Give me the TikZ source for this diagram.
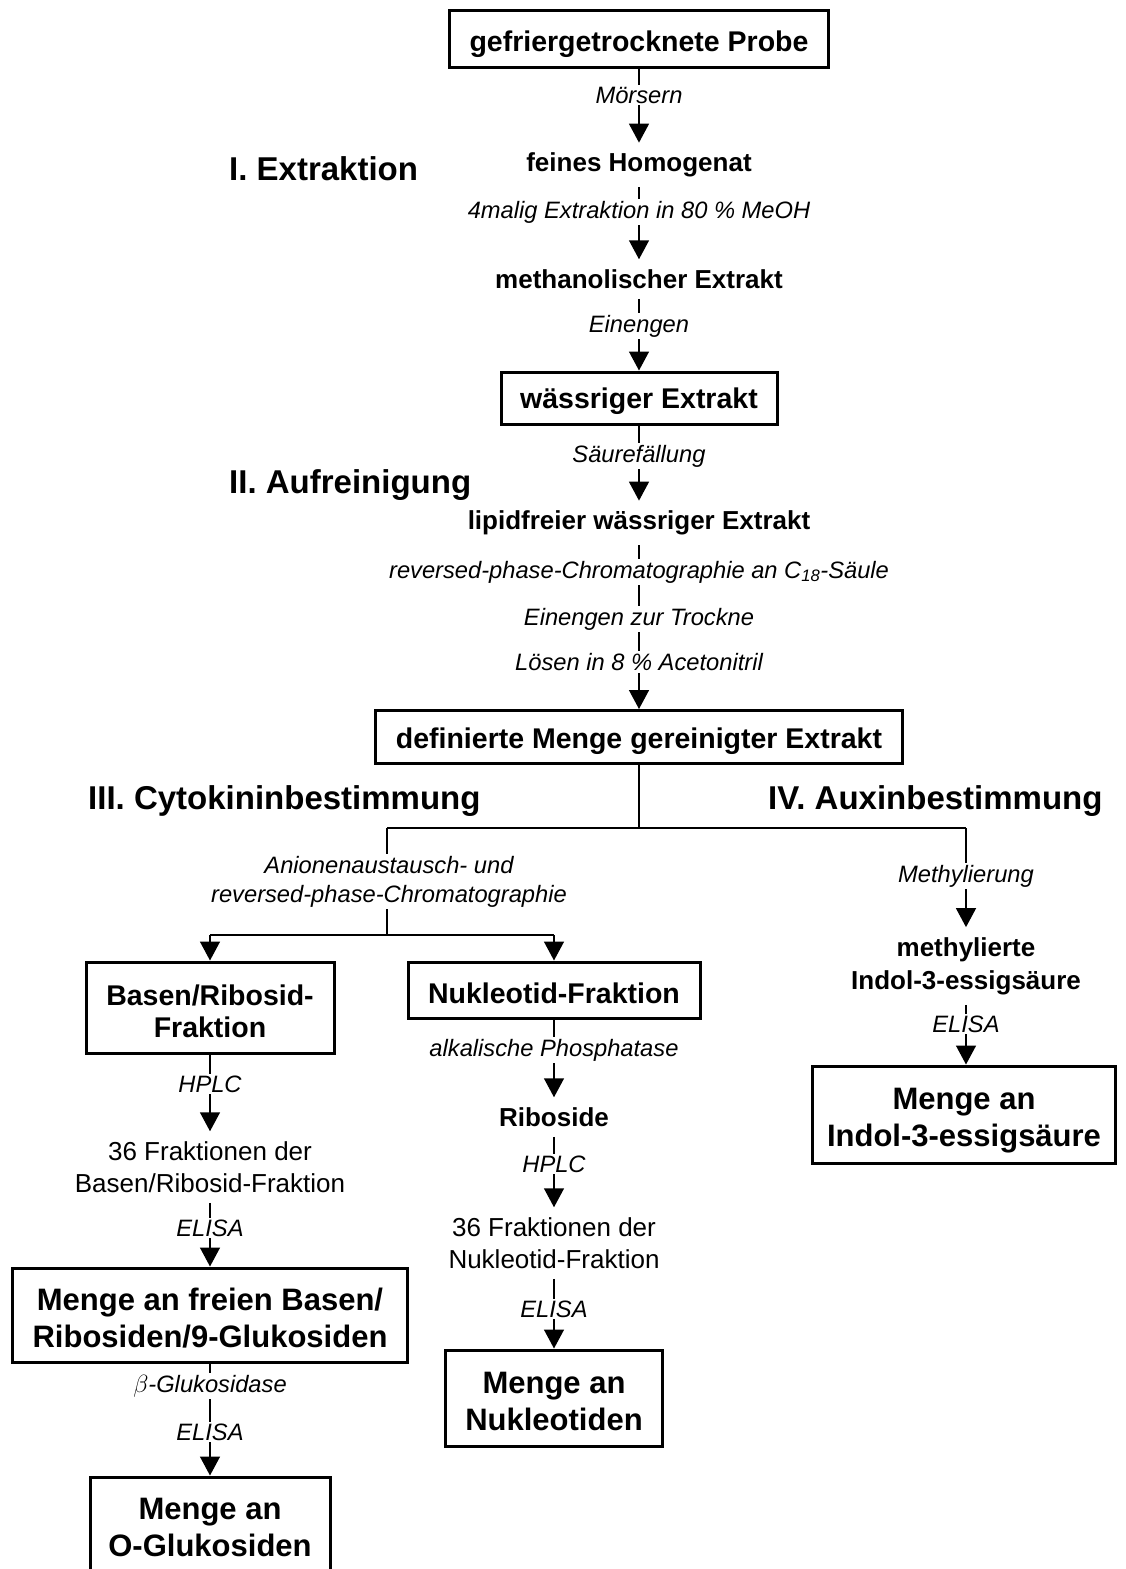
\documentclass[tikz,border=0pt]{standalone}
\usepackage{fontspec}
\setmainfont{Liberation Sans}
\usetikzlibrary{arrows.meta}
\newcommand\lowby[1]{\rule{0pt}{#1pt}}
\begin{document}
\begin{tikzpicture}[x=1pt,y=-1pt,
 box/.style={draw,line width=3pt,align=center,inner sep=0pt,font=\fontsize{28.5}{32}\selectfont\bfseries},
 bigbox/.style={draw,line width=3pt,align=center,inner sep=0pt,font=\fontsize{31}{37}\selectfont\bfseries},
 plain/.style={align=center,inner sep=10pt,font=\fontsize{26}{33}\selectfont\bfseries},
 reg/.style={align=center,inner sep=10pt,font=\fontsize{26}{32}\selectfont},
 lab/.style={fill=white,align=center,inner sep=2pt,font=\fontsize{23.7}{29}\selectfont\itshape},
 head/.style={anchor=west,inner sep=0pt,font=\fontsize{33}{40}\selectfont\bfseries},
 con/.style={line width=1.5pt},
 arr/.style={con,-{Triangle[length=19pt,width=20pt]}}]
\useasboundingbox (0,0) rectangle (1125,1569);
% main column
\node[box,minimum width=379pt,minimum height=57pt] (probe) at (639,38.5) {\lowby{32}gefriergetrocknete Probe};
\node[plain] (hom) at (639,165) {feines Homogenat};
\node[plain] (meth) at (639,279) {methanolischer Extrakt};
\node[box,minimum width=276pt,minimum height=52pt] (wass) at (639,398) {\lowby{27}wässriger Extrakt};
\node[plain] (lip) at (639,523) {lipidfreier wässriger Extrakt};
\node[box,minimum width=527pt,minimum height=53pt] (def) at (639,737) {\lowby{29}definierte Menge gereinigter Extrakt};
% headings
\node[head] (h1) at (229,169) {I. Extraktion};
\node[head] (h2) at (229,485) {II. Aufreinigung};
\node[head] (h3) at (88,801) {III. Cytokininbestimmung};
\node[head] (h4) at (768,801) {IV. Auxinbestimmung};
% branch nodes
\node[box,minimum width=248pt,minimum height=91pt] (basen) at (210,1007.5) {\lowby{29}Basen/Ribosid-\\Fraktion};
\node[box,minimum width=292pt,minimum height=56pt] (nuk) at (554,990) {\lowby{27}Nukleotid-Fraktion};
\node[plain] (mind) at (966,966) {methylierte\\Indol-3-essigsäure};
\node[bigbox,minimum width=303pt,minimum height=97pt] (indol) at (964,1114.5) {\lowby{33}Menge an\\Indol-3-essigsäure};
\node[reg] (f1) at (210,1167) {36 Fraktionen der\\Basen/Ribosid-Fraktion};
\node[bigbox,minimum width=395pt,minimum height=94pt] (frei) at (210,1315) {\lowby{28}Menge an freien Basen/\\Ribosiden/9-Glukosiden};
\node[bigbox,minimum width=240pt,minimum height=100pt] (oglu) at (210,1527) {Menge an\\O-Glukosiden};
\node[plain] (ribo) at (554,1117) {Riboside};
\node[reg] (f2) at (554,1243) {36 Fraktionen der\\Nukleotid-Fraktion};
\node[bigbox,minimum width=217pt,minimum height=96pt] (nukl) at (554,1398) {\lowby{29}Menge an\\Nukleotiden};
% junctions
\coordinate (j1) at (639,828);
\coordinate (jl) at (387,828);
\coordinate (jr) at (966,828);
\coordinate (j2) at (387,935);
\coordinate (bl) at (210,935);
\coordinate (br) at (554,935);
% connectors
\draw[arr] (probe) -- (hom);
\draw[arr] (hom) -- (meth);
\draw[arr] (meth) -- (wass);
\draw[arr] (wass) -- (lip);
\draw[arr] (lip) -- (def);
\draw[con] (def) -- (j1);
\draw[con] (jl) -- (jr);
\draw[con] (jl) -- (j2);
\draw[con] (bl) -- (br);
\draw[arr] (bl) -- (basen);
\draw[arr] (br) -- (nuk);
\draw[arr] (jr) -- (mind);
\draw[arr] (mind.south) -- (mind.south |- indol.north);
\draw[arr] (basen) -- (f1);
\draw[arr] (f1) -- (frei);
\draw[arr] (frei) -- (oglu);
\draw[arr] (nuk) -- (ribo);
\draw[arr] (ribo) -- (f2);
\draw[arr] (f2) -- (nukl);
% labels
\node[lab] (l1) at (639,95) {Mörsern};
\node[lab] (l2) at (639,212) {4malig Extraktion in 80 \% MeOH};
\node[lab] (l3) at (639,326) {Einengen};
\node[lab] (l4) at (639,456) {Säurefällung};
\node[lab] (l5) at (639,572) {reversed-phase-Chromatographie an C\textsubscript{18}-Säule};
\node[lab] (l6) at (639,619) {Einengen zur Trockne};
\node[lab] (l7) at (639,662) {Lösen in 8 \% Acetonitril};
\node[lab] (l8) at (389,881.5) {Anionenaustausch- und\\reversed-phase-Chromatographie};
\node[lab] (l9) at (966,876) {Methylierung};
\node[lab] (l10) at (966,1024) {ELISA};
\node[lab] (l11) at (210,1084) {HPLC};
\node[lab] (l12) at (210,1228) {ELISA};
\node[lab] (l13) at (210,1386) {$\beta$-Glukosidase};
\node[lab] (l14) at (210,1432) {ELISA};
\node[lab] (l15) at (554,1050) {alkalische Phosphatase};
\node[lab] (l16) at (554,1164) {HPLC};
\node[lab] (l17) at (554,1309) {ELISA};
\end{tikzpicture}
\end{document}
